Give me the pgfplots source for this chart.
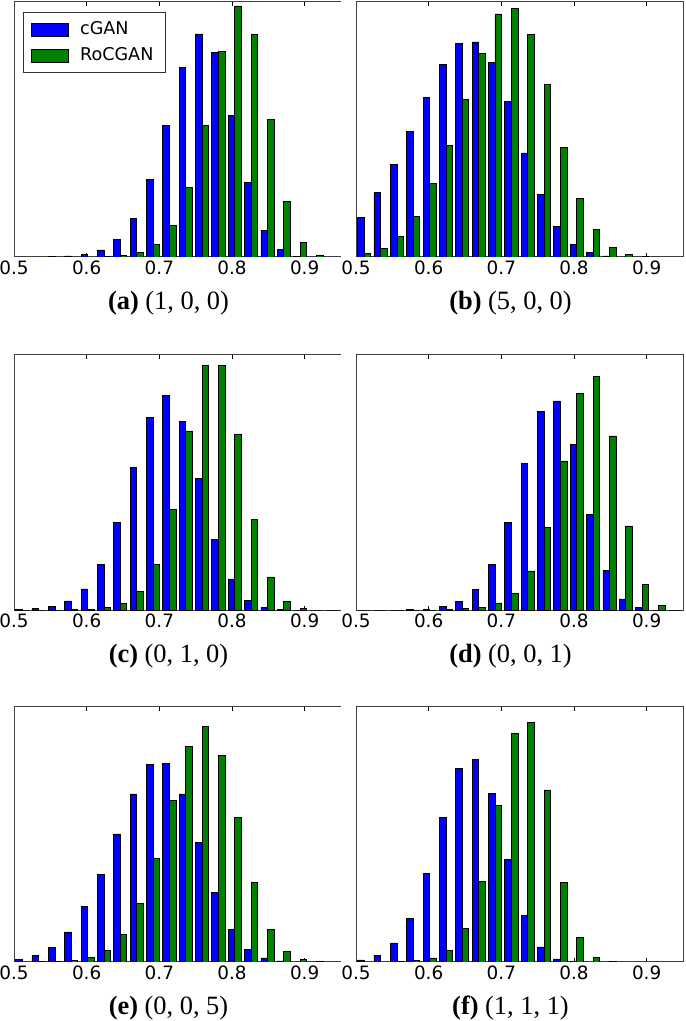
\documentclass[border=0pt]{standalone}
\usepackage{fontspec}
\setmainfont{Liberation Serif}
\newfontfamily\dejavu{DejaVu Sans}
\usepackage{pgfplots}
\usepackage{pgfplotstable}
\pgfplotsset{compat=1.18}
\definecolor{mplblue}{RGB}{0,0,255}
\definecolor{mplgreen}{RGB}{0,128,0}

% columns: bx = blue bar centre, b = cGAN, gx = green bar centre, g = RoCGAN
\pgfplotstableread{
bx gx b g
0.50675 0.51575 0 0
0.52925 0.53825 0 0
0.55175 0.56075 1 0
0.57425 0.58325 3 0
0.59675 0.60575 8 0
0.61925 0.62825 21 1
0.64175 0.65075 52 5
0.66425 0.67325 115 13
0.68675 0.69575 232 38
0.70925 0.71825 395 94
0.73175 0.74075 569 210
0.75425 0.76325 671 396
0.77675 0.78575 614 619
0.79925 0.80825 427 755
0.82175 0.83075 223 670
0.84425 0.85325 81 414
0.86675 0.87575 22 168
0.88925 0.89825 2 43
0.91175 0.92075 0 6
0.93425 0.94325 0 0
}\tA
\pgfplotstableread{
bx gx b g
0.50675 0.51575 118 10
0.52925 0.53825 193 27
0.55175 0.56075 279 63
0.57425 0.58325 377 123
0.59675 0.60575 481 220
0.61925 0.62825 580 335
0.64175 0.65075 643 473
0.66425 0.67325 647 611
0.68675 0.69575 584 731
0.70925 0.71825 467 748
0.73175 0.74075 313 670
0.75425 0.76325 187 518
0.77675 0.78575 93 329
0.79925 0.80825 39 176
0.82175 0.83075 13 82
0.84425 0.85325 3 28
0.86675 0.87575 0 8
0.88925 0.89825 0 2
0.91175 0.92075 0 0
0.93425 0.94325 0 0
}\tB
\pgfplotstableread{
bx gx b g
0.50675 0.51575 1 0
0.52925 0.53825 4 0
0.55175 0.56075 11 0
0.57425 0.58325 27 1
0.59675 0.60575 63 3
0.61925 0.62825 137 7
0.64175 0.65075 263 20
0.66425 0.67325 427 55
0.68675 0.69575 577 137
0.70925 0.71825 644 302
0.73175 0.74075 565 537
0.75425 0.76325 395 734
0.77675 0.78575 212 733
0.79925 0.80825 93 528
0.82175 0.83075 29 271
0.84425 0.85325 8 99
0.86675 0.87575 1 25
0.88925 0.89825 0 4
0.91175 0.92075 0 0
0.93425 0.94325 0 0
}\tC
\pgfplotstableread{
bx gx b g
0.50675 0.51575 0 0
0.52925 0.53825 0 0
0.55175 0.56075 0 0
0.57425 0.58325 1 0
0.59675 0.60575 3 0
0.61925 0.62825 11 2
0.64175 0.65075 26 4
0.66425 0.67325 61 9
0.68675 0.69575 136 21
0.70925 0.71825 263 49
0.73175 0.74075 440 117
0.75425 0.76325 596 247
0.77675 0.78575 627 447
0.79925 0.80825 496 649
0.82175 0.83075 286 700
0.84425 0.85325 119 522
0.86675 0.87575 33 252
0.88925 0.89825 7 77
0.91175 0.92075 0 14
0.93425 0.94325 0 0
}\tD
\pgfplotstableread{
bx gx b g
0.50675 0.51575 7 0
0.52925 0.53825 19 1
0.55175 0.56075 43 2
0.57425 0.58325 90 4
0.59675 0.60575 165 13
0.61925 0.62825 263 34
0.64175 0.65075 383 83
0.66425 0.67325 503 176
0.68675 0.69575 590 311
0.70925 0.71825 594 484
0.73175 0.74075 503 645
0.75425 0.76325 357 705
0.77675 0.78575 207 617
0.79925 0.80825 98 432
0.82175 0.83075 38 237
0.84425 0.85325 12 97
0.86675 0.87575 3 31
0.88925 0.89825 0 7
0.91175 0.92075 0 2
0.93425 0.94325 0 0
}\tE
\pgfplotstableread{
bx gx b g
0.50675 0.51575 6 0
0.52925 0.53825 20 0
0.55175 0.56075 57 1
0.57425 0.58325 131 5
0.59675 0.60575 264 12
0.61925 0.62825 433 35
0.64175 0.65075 579 101
0.66425 0.67325 605 242
0.68675 0.69575 505 468
0.70925 0.71825 308 685
0.73175 0.74075 140 716
0.75425 0.76325 45 515
0.77675 0.78575 9 238
0.79925 0.80825 1 73
0.82175 0.83075 0 14
0.84425 0.85325 0 2
0.86675 0.87575 0 0
0.88925 0.89825 0 0
0.91175 0.92075 0 0
0.93425 0.94325 0 0
}\tF

\pgfplotsset{
  hist/.style={
    scale only axis, width=163.5pt, height=127.5pt,
    xmin=0.5, xmax=0.95, ymin=0,
    xtick={0.5,0.6,0.7,0.8,0.9}, ytick=\empty,
    tick align=inside, major tick length=2pt,
    xtick pos=both,
    /pgf/number format/assume math mode=true,
    tick label style={font=\dejavu\fontsize{9.2}{11}\selectfont},
    xticklabel style={inner sep=1.5pt,
      /pgf/number format/fixed, /pgf/number format/precision=1},
    axis line style={black!75, line width=0.5pt},
    every tick/.style={black, line width=0.5pt},
    xlabel style={at={(axis description cs:0.5,0)}, anchor=center,
      yshift=-23pt, xshift=-4.5pt, font=\fontsize{13.2}{15}\selectfont},
  },
  leftcol/.style={axis y line*=left},
  bl/.style={ybar, bar shift=0pt, bar width=0.009, fill=mplblue, draw=black, line width=0.35pt,
    legend image code/.code={\draw[##1] (0pt,-3.25pt) rectangle (18.5pt,3.25pt);}},
  gr/.style={ybar, bar shift=0pt, bar width=0.009, fill=mplgreen, draw=black, line width=0.35pt,
    legend image code/.code={\draw[##1] (0pt,-3.25pt) rectangle (18.5pt,3.25pt);}},
}

\begin{document}
\begin{tikzpicture}
\useasboundingbox (0,0) rectangle (342.5pt,510.5pt);

% (a)
\begin{axis}[hist, leftcol, at={(7pt,509.5pt)}, anchor=north west, ymax=767,
  xlabel={\textbf{(a)} (1, 0, 0)},
  legend cell align=left,
  legend style={at={(0.0275,0.961)}, anchor=north west, draw=black!80,
    font=\dejavu\fontsize{8.8}{10}\selectfont, inner xsep=4pt, inner ysep=2.5pt,
    row sep=1pt, /tikz/every odd column/.append style={column sep=3.5pt}}]
\addplot[bl] table[x=bx,y=b]{\tA};
\addlegendentry{cGAN}
\addplot[gr] table[x=gx,y=g]{\tA};
\addlegendentry{RoCGAN}
\end{axis}

% (b)
\begin{axis}[hist, at={(178pt,509.5pt)}, anchor=north west, ymax=767,
  xlabel={\textbf{(b)} (5, 0, 0)}]
\addplot[bl] table[x=bx,y=b]{\tB};
\addplot[gr] table[x=gx,y=g]{\tB};
\end{axis}

% (c)
\begin{axis}[hist, leftcol, at={(7pt,333pt)}, anchor=north west, ymax=765,
  xlabel={\textbf{(c)} (0, 1, 0)}]
\addplot[bl] table[x=bx,y=b]{\tC};
\addplot[gr] table[x=gx,y=g]{\tC};
\end{axis}

% (d)
\begin{axis}[hist, at={(178pt,333pt)}, anchor=north west, ymax=765,
  xlabel={\textbf{(d)} (0, 0, 1)}]
\addplot[bl] table[x=bx,y=b]{\tD};
\addplot[gr] table[x=gx,y=g]{\tD};
\end{axis}

% (e)
\begin{axis}[hist, leftcol, at={(7pt,157pt)}, anchor=north west, ymax=763,
  xlabel={\textbf{(e)} (0, 0, 5)}]
\addplot[bl] table[x=bx,y=b]{\tE};
\addplot[gr] table[x=gx,y=g]{\tE};
\end{axis}

% (f)
\begin{axis}[hist, at={(178pt,157pt)}, anchor=north west, ymax=763,
  xlabel={\textbf{(f)} (1, 1, 1)}]
\addplot[bl] table[x=bx,y=b]{\tF};
\addplot[gr] table[x=gx,y=g]{\tF};
\end{axis}
\end{tikzpicture}
\end{document}
